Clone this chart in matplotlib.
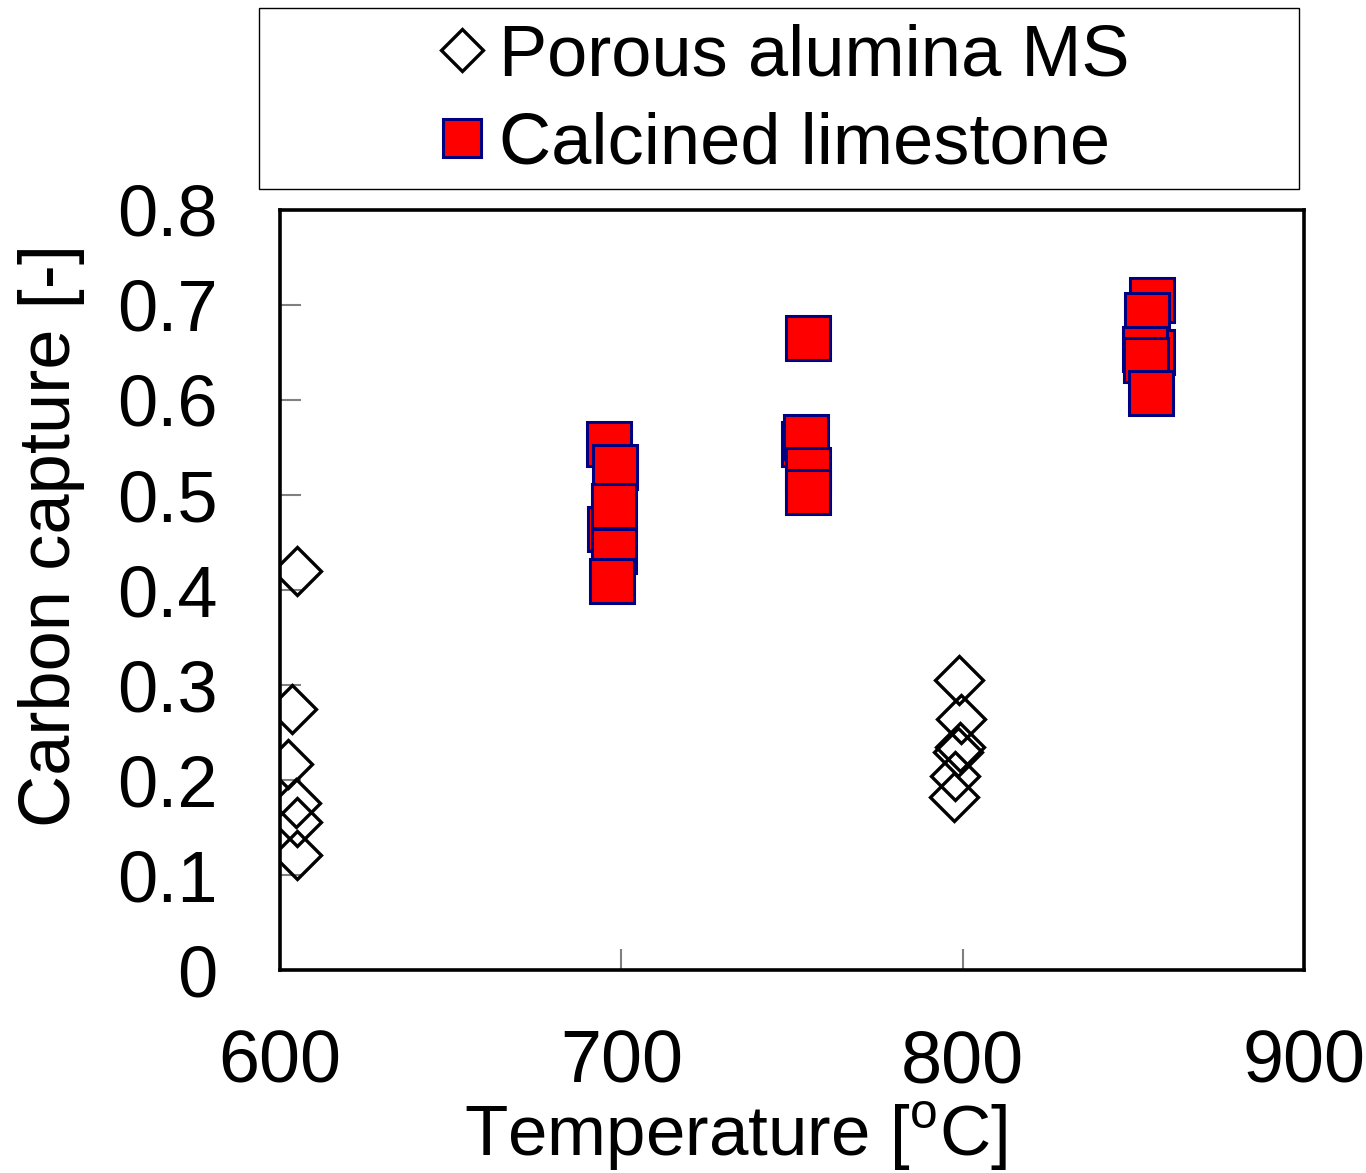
import matplotlib.pyplot as plt
from matplotlib.patches import Rectangle

plt.rcParams['font.family'] = ['Liberation Sans', 'DejaVu Sans']
plt.rcParams['mathtext.fontset'] = 'custom'
plt.rcParams['mathtext.rm'] = 'Liberation Sans'

# Porous alumina MS
alumina_T = [605.1, 603.4, 602.4, 604.6, 604.9, 604.9,
             799.0, 799.5, 799.3, 798.5, 797.8, 797.6]
alumina_cap = [0.420, 0.275, 0.217, 0.176, 0.156, 0.121,
               0.305, 0.264, 0.235, 0.229, 0.204, 0.182]

# Calcined limestone
lime_T = [696.4, 696.7, 698.2, 697.8, 697.8, 697.3,
          754.7, 753.5, 754.2, 754.8, 754.8,
          855.4, 854.1, 855.6, 853.5, 853.7, 855.1]
lime_cap = [0.554, 0.464, 0.530, 0.488, 0.441, 0.410,
            0.665, 0.554, 0.561, 0.526, 0.503,
            0.705, 0.689, 0.650, 0.654, 0.642, 0.607]

fig = plt.figure(figsize=(13.66, 11.73), dpi=100)
ax = fig.add_axes([0.205, 0.173, 0.7496, 0.648])

ax.plot(alumina_T, alumina_cap, linestyle='none', marker='D', ms=24,
        mfc='none', mec='black', mew=2.4, label='Porous alumina MS')
ax.plot(lime_T, lime_cap, linestyle='none', marker='s', ms=31,
        mfc='#ff0000', mec='#000080', mew=2.2, label='Calcined limestone')

ax.set_xlim(600, 900)
ax.set_ylim(0, 0.8)
ax.set_xticks([600, 700, 800, 900])
ax.set_yticks([0, 0.1, 0.2, 0.3, 0.4, 0.5, 0.6, 0.7, 0.8])
ax.set_yticklabels(['0', '0.1', '0.2', '0.3', '0.4', '0.5', '0.6', '0.7', '0.8'])
ax.tick_params(axis='both', direction='in', length=15, width=1.5,
               color='#808080')
ax.tick_params(axis='x', pad=42, labelsize=53)
ax.tick_params(axis='y', pad=45, labelsize=52)
for sp in ax.spines.values():
    sp.set_linewidth(2.6)

ax.set_xlabel('Temperature [$^\\mathrm{o}$C]', fontsize=51)
ax.xaxis.set_label_coords(0.445, -0.17)
ax.set_ylabel('Carbon capture [-]', fontsize=52)
ax.yaxis.set_label_coords(-0.19, 0.572)

fig.patches.append(Rectangle((259 / 1366, 1 - 189 / 1173), 1040 / 1366, 181 / 1173,
                             transform=fig.transFigure, fill=False,
                             edgecolor='black', linewidth=1))
fig.legend(loc='center', bbox_to_anchor=(0.572, 0.914), frameon=False,
           fontsize=52, handletextpad=0.1, labelspacing=0.3,
           handlelength=0.8, markerscale=0.9)

fig.savefig('out.png', dpi=100)
